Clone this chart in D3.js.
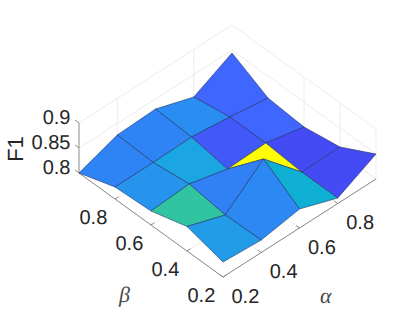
<!DOCTYPE html>
<html><head><meta charset="utf-8">
<style>html,body{margin:0;padding:0;background:#fff}svg{display:block;text-rendering:geometricPrecision}</style>
<script src="https://cdn.jsdelivr.net/npm/d3@7/dist/d3.min.js"></script>
</head><body><div id="c"></div>
<script>
const alphaValues=[0.2,0.4,0.6,0.8,1.0];
const betaValues=[0.2,0.4,0.6,0.8,1.0];
// F1[beta index][alpha index]
const f1Beta02=[0.830,0.825,0.838,0.811,0.850];
const f1Beta04=[0.849,0.823,0.886,0.811,0.812];
const f1Beta06=[0.828,0.833,0.814,0.817,0.800];
const f1Beta08=[0.824,0.824,0.826,0.817,0.806];
const f1Beta10=[0.800,0.827,0.830,0.805,0.844];
const f1=[f1Beta02,f1Beta04,f1Beta06,f1Beta08,f1Beta10];
const alphaTicks=[0.2,0.4,0.6,0.8];
const betaTicks=[0.2,0.4,0.6,0.8];
const zTicks=[0.8,0.85,0.9];
const zTickLabels=['0.8','0.85','0.9'];
const wallAlphaGrid=[0.4,0.8];
const wallBetaGrid=[0.2,0.4,0.6];

const W=415,H=312;
const svg=d3.select('#c').append('svg').attr('width',W).attr('height',H);
const ax=d3.scaleLinear().domain([0.2,1]).range([0,153]);
const ay=d3.scaleLinear().domain([0.2,1]).range([0,-98]);
const bx=d3.scaleLinear().domain([0.2,1]).range([0,-144]);
const by=d3.scaleLinear().domain([0.2,1]).range([0,-104]);
const zy=d3.scaleLinear().domain([0.8,0.9]).range([0,-50]);
const px=(a,b)=>223+ax(a)+bx(b);
const py=(a,b,z)=>277+ay(a)+by(b)+zy(z);
const pt=(a,b,z)=>[px(a,b),py(a,b,z)];
const parula=['#3d2ab0','#4640f0','#3f68ff','#2a8cf2','#19aae0','#00b6c4','#45ca90','#7dcc60','#c8c030','#f5d020','#ffff00'];
const color=d3.scaleLinear().domain(d3.range(11).map(i=>0.8+0.0086*i)).range(parula).clamp(true);
const line=d3.line();
const grid=svg.append('g').attr('fill','none').attr('stroke','#ececec').attr('stroke-width',1);
function seg(g,p,q){g.append('path').attr('d',line([p,q]));}
// floor grid
alphaTicks.concat([1]).forEach(a=>seg(grid,pt(a,0.2,0.8),pt(a,1,0.8)));
betaTicks.concat([1]).forEach(b=>seg(grid,pt(0.2,b,0.8),pt(1,b,0.8)));
// wall grid
wallAlphaGrid.forEach(a=>seg(grid,pt(a,1,0.8),pt(a,1,0.9)));
wallBetaGrid.forEach(b=>seg(grid,pt(1,b,0.8),pt(1,b,0.9)));
zTicks.forEach(z=>{
  seg(grid,pt(0.2,1,z),pt(1,1,z));
  seg(grid,pt(1,1,z),pt(1,0.2,z));
});
// axes
const axes=svg.append('g').attr('fill','none').attr('stroke','#8c8c8c').attr('stroke-width',1);
seg(axes,pt(0.2,0.2,0.8),pt(1,0.2,0.8));
seg(axes,pt(0.2,0.2,0.8),pt(0.2,1,0.8));
seg(axes,pt(0.2,1,0.8),pt(0.2,1,0.9));
alphaTicks.forEach(a=>seg(axes,pt(a,0.2,0.8),[px(a,0.2)-3.5,py(a,0.2,0.8)-2.5]));
betaTicks.forEach(b=>seg(axes,pt(0.2,b,0.8),[px(0.2,b)+3.5,py(0.2,b,0.8)-2.2]));
zTicks.forEach(z=>seg(axes,pt(0.2,1,z),[px(0.2,1)-4,py(0.2,1,z)-3]));
// surface, back to front
const cells=[];
for(let j=0;j<4;j++)for(let i=0;i<4;i++)cells.push({i,j});
cells.sort((p,q)=>(q.i+q.j)-(p.i+p.j));
svg.append('g').selectAll('path').data(cells).join('path')
 .attr('d',c=>line([
   pt(alphaValues[c.i],betaValues[c.j],f1[c.j][c.i]),
   pt(alphaValues[c.i+1],betaValues[c.j],f1[c.j][c.i+1]),
   pt(alphaValues[c.i+1],betaValues[c.j+1],f1[c.j+1][c.i+1]),
   pt(alphaValues[c.i],betaValues[c.j+1],f1[c.j+1][c.i])])+'Z')
 .attr('fill',c=>color(f1[c.j][c.i]))
 .attr('stroke','#1c2a5c').attr('stroke-width',0.55).attr('stroke-linejoin','round');
// labels
const txt=svg.append('g').attr('font-family','"Liberation Sans",Arial,sans-serif').attr('font-size',20).attr('fill','#262626');
alphaTicks.forEach(a=>txt.append('text').attr('x',px(a,0.2)+8.5).attr('y',py(a,0.2,0.8)+25.5).text(d3.format('.1f')(a)));
betaTicks.forEach(b=>txt.append('text').attr('x',px(0.2,b)-35.5).attr('y',py(0.2,b,0.8)+24.5).text(d3.format('.1f')(b)));
zTicks.forEach((z,i)=>txt.append('text').attr('x',70.5).attr('y',py(0.2,1,z)+0.5).attr('text-anchor','end').text(zTickLabels[i]));
txt.append('text').attr('transform','translate(22.5,149) rotate(-90)').attr('text-anchor','middle').attr('font-size',22).text('F1');
const gk=svg.append('g').attr('font-family','"Liberation Serif",serif').attr('font-style','italic').attr('font-size',22).attr('fill','#4a4a4a');
gk.append('text').attr('x',119).attr('y',302).text('β');
gk.append('text').attr('x',320).attr('y',303).text('α');
</script></body></html>
